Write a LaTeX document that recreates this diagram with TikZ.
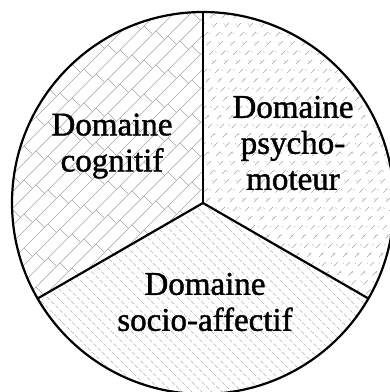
\documentclass[tikz,border=0pt]{standalone}
\usepackage{fontspec}
\setmainfont{Liberation Serif}
\newfontfamily\heavyserif{Liberation Serif}[FakeBold=1.3]
\usetikzlibrary{calc}
\begin{document}
\begin{tikzpicture}[x=1pt,y=-1pt,
  outline/.style={line width=2.2pt,line join=round},
  hatch/.style={gray!70,line width=0.6pt},
  label/.style={align=center,font=\heavyserif\fontsize{33}{36}\selectfont,inner sep=0pt}]
\useasboundingbox (0,0) rectangle (390,392);
\def\R{191}
\coordinate (C) at (203,203);
\coordinate (T) at ($(C)+(270:\R)$);
% sector fills
\begin{scope}
  \clip (C) -- ++(150:\R) arc[start angle=150,end angle=270,radius=\R] -- cycle;
  \foreach \k in {0,...,50}{
    \pgfmathsetmacro{\c}{\k*17}
    \draw[hatch] (\c-450,450) -- (\c+50,-50);
    \pgfmathtruncatemacro{\pp}{mod(\k,2)}
    \foreach \m in {-2,...,20}{
      \pgfmathsetmacro{\t}{\m*24+\pp*12}
      \draw[hatch] (\t,\c-\t) -- ++(8.5,8.5);
    }
  }
\end{scope}
\begin{scope}
  \clip (C) -- ++(270:\R) arc[start angle=270,end angle=390,radius=\R] -- cycle;
  \foreach \k in {0,...,70}{
    \pgfmathsetmacro{\c}{\k*12}
    \draw[hatch,dash pattern=on 6pt off 7pt] (\c-450,450) -- (\c+50,-50);
    \draw[gray!45,line width=0.5pt,dash pattern=on 2pt off 11pt] (\c-450,-50) -- (\c+50,450);
  }
\end{scope}
\begin{scope}
  \clip (C) -- ++(30:\R) arc[start angle=30,end angle=150,radius=\R] -- cycle;
  \foreach \k in {0,...,90}{
    \pgfmathsetmacro{\c}{\k*10-400}
    \draw[gray!60,line width=0.6pt,dash pattern=on 4pt off 2pt] (\c,0) -- (\c+450,450);
  }
\end{scope}
% outline
\draw[outline] (C) circle[radius=\R];
\draw[outline] (C) -- (T);
\draw[outline] (C) -- ($(C)+(150:\R)$);
\draw[outline] (C) -- ($(C)+(30:\R)$);
% labels
\node[label] (cog) at (112,146) {Domaine\\cognitif};
\node[label] (psy) at (293,143) {Domaine\\psycho-\\moteur};
\node[label] (soc) at (205,302) {Domaine\\socio-affectif};
\end{tikzpicture}
\end{document}
